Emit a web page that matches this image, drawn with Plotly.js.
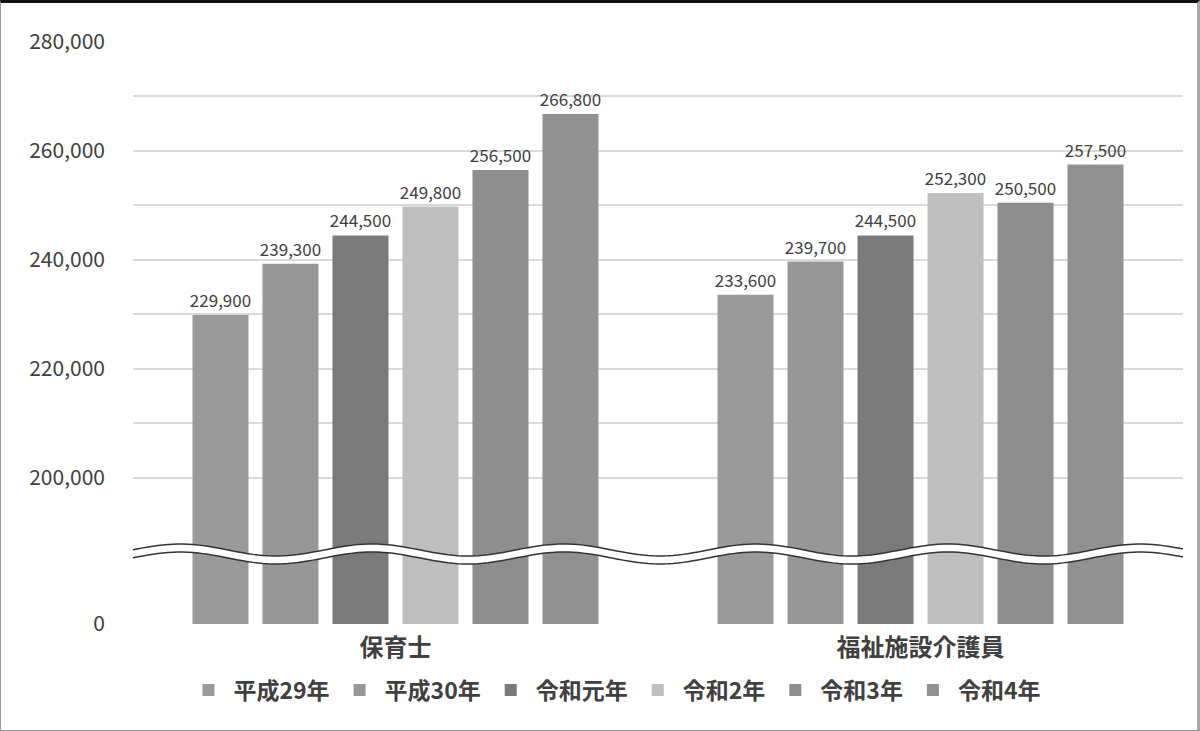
<!DOCTYPE html>
<html>
<head>
<meta charset="utf-8">
<script src="https://cdn.plot.ly/plotly-3.0.1.min.js"></script>
<style>
  html, body { margin: 0; padding: 0; background: #fff; }
  #wrap { position: relative; width: 1200px; height: 731px; }
  #frame { position: absolute; left: 0; top: 0; width: 1200px; height: 731px; box-sizing: border-box;
           border: 1px solid #9a9a9a; border-top: 3px solid #111; border-right: 3px solid #aaa; pointer-events: none; }
</style>
</head>
<body>
<div id="wrap">
  <div id="chart"></div>
  <div id="frame"></div>
</div>
<script>
// categories and series
var jobs = ['保育士', '福祉施設介護員'];
var years = ['平成29年', '平成30年', '令和元年', '令和2年', '令和3年', '令和4年'];
var h29 = [229900, 233600];
var h30 = [239300, 239700];
var r1 = [244500, 244500];
var r2 = [249800, 252300];
var r3 = [256500, 250500];
var r4 = [266800, 257500];
var colors = ['#9a9a9a', '#979797', '#7a7a7a', '#bfbfbf', '#8e8e8e', '#919191'];

// axis is broken: bottom of the plot stands for 0
var yZero = 173200;
var tickVals = [yZero, 200000, 220000, 240000, 260000, 280000];
var tickText = ['0', '200,000', '220,000', '240,000', '260,000', '280,000'];
var minorVals = [210000, 230000, 250000, 270000];

var series = [h29, h30, r1, r2, r3, r4];
var data = series.map(function (vals, i) {
  return {
    type: 'bar',
    name: years[i],
    x: jobs,
    y: vals,
    marker: {color: colors[i]},
    text: vals.map(function (v) { return v.toLocaleString('en-US'); }),
    textposition: 'outside',
    constraintext: 'none',
    textfont: {size: 17, color: '#404040'},
    cliponaxis: false,
    hoverinfo: 'x+y+name'
  };
});

// wave marking the break (paper coords)
var W = 1200, H = 731, mL = 133, mR = 17, mT = 42, mB = 107;
var pw = W - mL - mR, ph = H - mT - mB;
function py(pix) { return (H - mB - pix) / ph; }
function wave(yc, reverse) {
  var pts = [];
  for (var px = 0; px <= pw; px += 5) {
    var yy = yc - 6 * Math.cos((px + mL - 180) / 192 * 2 * Math.PI);
    pts.push([px / pw, py(yy)]);
  }
  if (reverse) pts.reverse();
  return pts;
}
var up = wave(550), lo = wave(558, true);
function toPath(pts, start) {
  return pts.map(function (p, k) { return (k === 0 && start ? 'M' : 'L') + p[0].toFixed(5) + ',' + p[1].toFixed(5); }).join(' ');
}
var shapes = [
  {type: 'path', xref: 'paper', yref: 'paper', path: toPath(up, true) + ' ' + toPath(lo, false) + ' Z',
   fillcolor: '#ffffff', line: {width: 0}},
  {type: 'path', xref: 'paper', yref: 'paper', path: toPath(up, true), line: {color: '#333', width: 1.5}},
  {type: 'path', xref: 'paper', yref: 'paper', path: toPath(wave(558), true), line: {color: '#333', width: 1.5}}
];

var layout = {
  width: W,
  height: H,
  margin: {l: mL, r: mR, t: mT, b: mB},
  paper_bgcolor: '#fff',
  plot_bgcolor: '#fff',
  font: {family: '"Noto Sans CJK JP", "Noto Sans", sans-serif', color: '#404040'},
  barmode: 'group',
  bargap: 0.2,
  bargroupgap: 0.2,
  showlegend: true,
  legend: {orientation: 'h', x: 0.459, xanchor: 'center', y: py(690), yanchor: 'middle',
           font: {size: 23, weight: 'bold', color: '#404040'}, itemwidth: 40, traceorder: 'normal'},
  xaxis: {
    showgrid: false, zeroline: false, showline: false, ticks: '',
    tickfont: {size: 24, weight: 'bold', color: '#404040'},
    ticklabelstandoff: 7
  },
  yaxis: {
    range: [yZero, 280000],
    tickvals: tickVals,
    ticktext: tickText,
    tickfont: {size: 21, color: '#404040'},
    ticklabelstandoff: 27,
    showgrid: true, gridcolor: '#d9d9d9', gridwidth: 2,
    zeroline: false, showline: false,
    minor: {tickvals: minorVals, showgrid: true, gridcolor: '#d9d9d9', gridwidth: 2}
  },
  shapes: shapes
};

Plotly.newPlot('chart', data, layout, {displayModeBar: false, staticPlot: true});
</script>
</body>
</html>
